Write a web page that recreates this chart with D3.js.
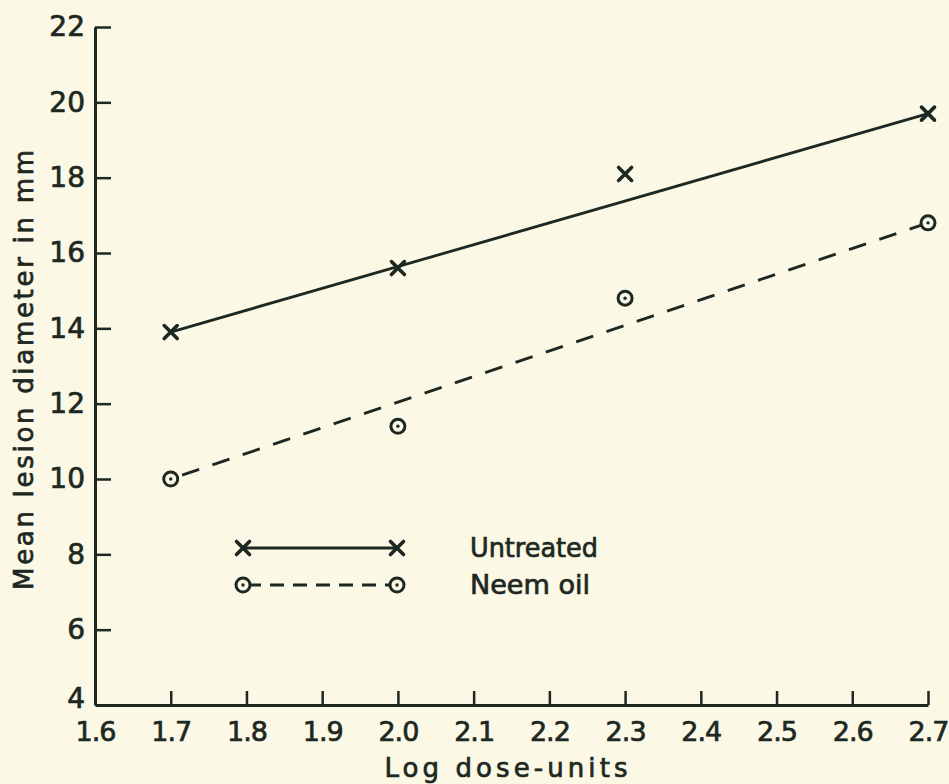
<!DOCTYPE html>
<html>
<head>
<meta charset="utf-8">
<script src="https://cdn.jsdelivr.net/npm/d3@7"></script>
<style>
  html, body { margin: 0; padding: 0; background: #fbf8e6; }
  svg { display: block; }
  text { font-family: "DejaVu Sans", sans-serif; fill: #1d2822; stroke: #1d2822; stroke-width: 0.7px; }
</style>
</head>
<body>
<svg id="chart" width="949" height="784"></svg>
<script>
// ---- data ----
const doses = [1.7, 2.0, 2.3, 2.7];
const untreated = [13.9, 15.6, 18.1, 19.7];
const neemOil = [10.0, 11.4, 14.8, 16.8];
// fitted regression lines (endpoints)
const untreatedFitX = [1.7, 2.7];
const untreatedFitY = [13.9, 19.7];
const neemFitX = [1.7, 2.7];
const neemFitY = [10.0, 16.8];
const xTicks = [1.6, 1.7, 1.8, 1.9, 2.0, 2.1, 2.2, 2.3, 2.4, 2.5, 2.6, 2.7];
const xTickLabels = ["1.6","1.7","1.8","1.9","2.0","2.1","2.2","2.3","2.4","2.5","2.6","2.7"];
const yTicks = [4, 6, 8, 10, 12, 14, 16, 18, 20, 22];
const legendLabels = ["Untreated", "Neem oil"];
const xTitle = "Log dose-units";
const yTitle = "Mean lesion diameter in mm";

// ---- layout ----
const ink = "#1d2822";
const svg = d3.select("#chart");
const x = d3.scaleLinear().domain([1.6, 2.7]).range([95, 928]);
const y = d3.scaleLinear().domain([4, 22]).range([705, 27]);

// axes
const xAxis = d3.axisBottom(x).tickValues(xTicks).tickSize(-14)
  .tickFormat((d, i) => xTickLabels[i]).tickSizeOuter(0);
const gx = svg.append("g").attr("transform", `translate(0,${y(4)})`).call(xAxis);
gx.select(".domain").attr("stroke", ink).attr("stroke-width", 3);
gx.selectAll(".tick line").attr("stroke", ink).attr("stroke-width", 2.5);
gx.selectAll(".tick").filter(d => d === 1.6).select("line").remove();
gx.selectAll(".tick text").attr("dy", "1.2em").style("font-size", "27px")
  .attr("y", 4).attr("fill", ink).attr("letter-spacing", "-1px");

const yAxis = d3.axisLeft(y).tickValues(yTicks).tickSize(-16).tickSizeOuter(0);
const gy = svg.append("g").attr("transform", `translate(${x(1.6)},0)`).call(yAxis);
gy.select(".domain").attr("stroke", ink).attr("stroke-width", 3);
gy.selectAll(".tick line").attr("stroke", ink).attr("stroke-width", 2.5);
gy.selectAll(".tick").filter(d => d === 4).select("line").remove();
gy.selectAll(".tick text").style("font-size", "28px").attr("x", -10).attr("fill", ink);
gy.selectAll(".tick").filter(d => d === 4).select("text").attr("dy", "0.1em");

// titles
svg.append("text").attr("x", 506).attr("y", 777)
  .attr("text-anchor", "middle").style("font-size", "26px")
  .attr("textLength", 243).attr("lengthAdjust", "spacing").text(xTitle);
svg.append("text").attr("transform", `translate(33,${370}) rotate(-90)`)
  .attr("text-anchor", "middle").style("font-size", "26px")
  .attr("textLength", 440).attr("lengthAdjust", "spacing").text(yTitle);

// fitted lines
const line = d3.line().x(d => x(d[0])).y(d => y(d[1]));
svg.append("path").datum(d3.zip(untreatedFitX, untreatedFitY)).attr("d", line)
  .attr("fill", "none").attr("stroke", ink).attr("stroke-width", 2.8);
svg.append("path").datum(d3.zip(neemFitX, neemFitY)).attr("d", line)
  .attr("fill", "none").attr("stroke", ink).attr("stroke-width", 2.8)
  .attr("stroke-dasharray", "18 14").attr("stroke-dashoffset", -12);

// markers
function cross(g, cx, cy) {
  const s = 6.5;
  g.append("path").attr("d", `M${cx-s},${cy-s}L${cx+s},${cy+s}M${cx+s},${cy-s}L${cx-s},${cy+s}`)
    .attr("stroke", ink).attr("stroke-width", 3.6).attr("stroke-linecap", "round").attr("fill", "none");
}
function ring(g, cx, cy) {
  g.append("circle").attr("cx", cx).attr("cy", cy).attr("r", 7)
    .attr("fill", "#fbf8e6").attr("stroke", ink).attr("stroke-width", 3);
  g.append("circle").attr("cx", cx).attr("cy", cy).attr("r", 1.7).attr("fill", ink);
}
const gm = svg.append("g");
doses.forEach((d, i) => cross(gm, x(d), y(untreated[i])));
doses.forEach((d, i) => ring(gm, x(d), y(neemOil[i])));

// legend
const lx0 = 243, lx1 = 397, ly0 = 548, ly1 = 585;
const lg = svg.append("g");
lg.append("line").attr("x1", lx0).attr("x2", lx1).attr("y1", ly0).attr("y2", ly0)
  .attr("stroke", ink).attr("stroke-width", 2.8);
cross(lg, lx0, ly0); cross(lg, lx1, ly0);
lg.append("line").attr("x1", lx0).attr("x2", lx1).attr("y1", ly1).attr("y2", ly1)
  .attr("stroke", ink).attr("stroke-width", 2.8).attr("stroke-dasharray", "14 9").attr("stroke-dashoffset", -4);
ring(lg, lx0, ly1); ring(lg, lx1, ly1);
legendLabels.forEach((t, i) => {
  lg.append("text").attr("x", 470).attr("y", [ly0, ly1][i]).attr("dy", "0.35em")
    .style("font-size", "26px").attr("textLength", [128, 120][i]).attr("lengthAdjust", "spacingAndGlyphs").text(t);
});
</script>
</body>
</html>
